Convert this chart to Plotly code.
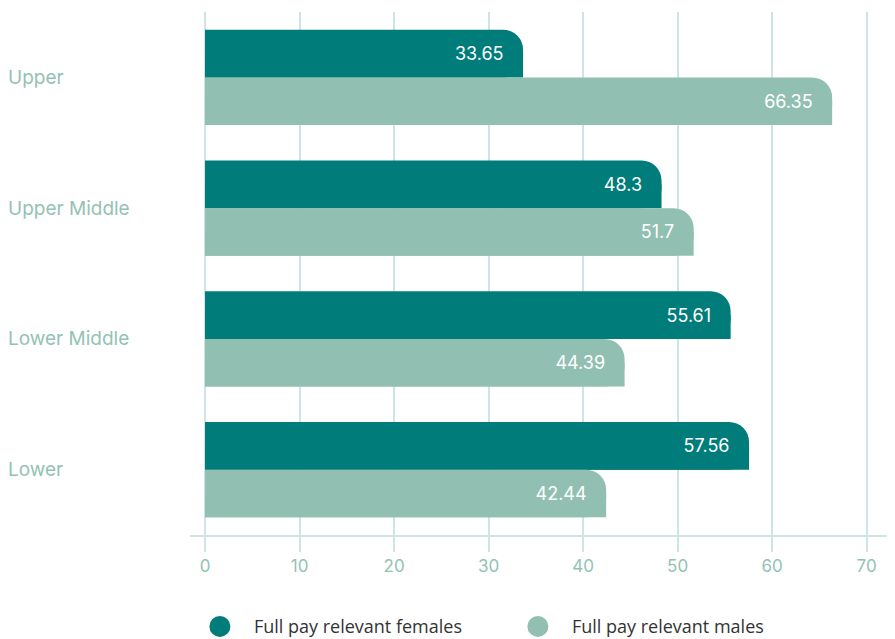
import plotly.graph_objects as go

categories = ["Upper", "Upper Middle", "Lower Middle", "Lower"]
females = [33.65, 48.3, 55.61, 57.56]
males = [66.35, 51.7, 44.39, 42.44]
series_names = ["Full pay relevant females", "Full pay relevant males"]
x_ticks = [0, 10, 20, 30, 40, 50, 60, 70]

C_F = "#007d7b"
C_M = "#91c0b3"
GRID = "#cfe4e5"
LABEL = "#93c2b4"
FONT = "Inter"
PAD = "\u00a0\u00a0\u00a0"

half = 0.365
fig = go.Figure()

# square fillers for the bottom-right corners (only top-right is rounded)
for vals, color, off in [(females, C_F, -half / 2), (males, C_M, half / 2)]:
    fig.add_trace(go.Bar(
        y=categories, x=vals, orientation="h", marker=dict(color=color, line=dict(width=0)),
        offset=off, width=half / 2, showlegend=False, hoverinfo="skip",
    ))

for vals, color, off in [(females, C_F, -half), (males, C_M, 0)]:
    fig.add_trace(go.Bar(
        y=categories, x=vals, orientation="h",
        marker=dict(color=color, line=dict(width=0), cornerradius=20),
        offset=off, width=half, showlegend=False,
        text=[f"{v}{PAD}" for v in vals], textposition="inside", insidetextanchor="end",
        textfont=dict(color="white", size=18, family=FONT),
        cliponaxis=False,
    ))

for name, color in zip(series_names, [C_F, C_M]):
    fig.add_trace(go.Scatter(
        x=[None], y=[None], mode="markers", name="\u00a0\u00a0\u00a0" + name,
        marker=dict(color=color, size=16, symbol="circle", line=dict(color=color, width=5)),
    ))

for cat in categories:
    fig.add_annotation(
        x=-0.261, xref="paper", y=cat, yref="y", text=cat, showarrow=False,
        xanchor="left", font=dict(color=LABEL, size=19, family=FONT),
    )

fig.update_layout(
    width=887, height=660, barmode="overlay",
    margin=dict(l=182, r=0, t=4, b=133),
    plot_bgcolor="white", paper_bgcolor="white",
    xaxis=dict(
        range=[-1.59, 73.0], tickvals=x_ticks, showgrid=True, gridcolor=GRID, gridwidth=1.5,
        zeroline=False, showline=True, linecolor=GRID, linewidth=1.5,
        ticks="outside", ticklen=15, tickcolor=GRID, tickwidth=1.5,
        tickfont=dict(color=LABEL, size=17, family=FONT),
    ),
    yaxis=dict(
        autorange="reversed", showticklabels=False, showgrid=False, zeroline=False,
        categoryorder="array", categoryarray=categories,
    ),
    legend=dict(
        orientation="h", x=0.014, xanchor="left", y=-0.14, yanchor="top",
        font=dict(color="#333333", size=18, family="Open Sans"),
        entrywidth=273, itemsizing="trace",
    ),
    showlegend=True,
)

fig.write_html("out.html")
